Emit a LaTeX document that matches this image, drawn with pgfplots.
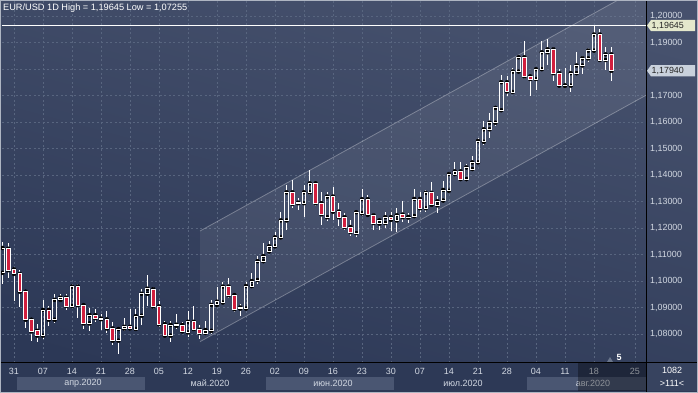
\documentclass[border=0pt]{standalone}
\usepackage{fontspec}
\setmainfont{Liberation Sans}
\usepackage{pgfplots}
\usepackage{pgfplotstable}
\pgfplotsset{compat=1.18}

\definecolor{bgTop}{HTML}{46516D}
\definecolor{bgBot}{HTML}{2C3856}
\definecolor{panel}{HTML}{2D3956}
\definecolor{band}{HTML}{4A5672}
\definecolor{gridc}{HTML}{58657F}
\definecolor{labc}{HTML}{D2D8E2}
\definecolor{candred}{HTML}{D11F3E}
\definecolor{tagA}{HTML}{E4E8CC}
\definecolor{tagB}{HTML}{C9D1DC}
\definecolor{framec}{HTML}{AEB5C2}
\definecolor{boxc}{HTML}{37435F}
\definecolor{tric}{HTML}{6A768C}

\pgfplotstableread{
i o h l c
-1 1.1031 1.1147 1.0990 1.1125
0 1.1122 1.1144 1.1012 1.1041
1 1.1044 1.1052 1.0925 1.1027
2 1.1027 1.1040 1.0902 1.0960
3 1.0960 1.0966 1.0821 1.0854
4 1.0854 1.0862 1.0772 1.0810
5 1.0812 1.0837 1.0769 1.0794
6 1.0794 1.0927 1.0781 1.0891
7 1.0891 1.0904 1.0831 1.0854
8 1.0854 1.0952 1.0841 1.0929
9 1.0929 1.0950 1.0922 1.0937
10 1.0937 1.0950 1.0891 1.0906
11 1.0906 1.0987 1.0904 1.0979
12 1.0979 1.0990 1.0860 1.0909
13 1.0909 1.0912 1.0819 1.0840
14 1.0840 1.0900 1.0812 1.0871
15 1.0871 1.0896 1.0844 1.0860
16 1.0856 1.0877 1.0815 1.0858
17 1.0855 1.0885 1.0804 1.0821
18 1.0821 1.0844 1.0760 1.0775
19 1.0775 1.0825 1.07255 1.0819
20 1.0821 1.0859 1.0812 1.0827
21 1.0827 1.0894 1.0815 1.0821
22 1.0819 1.0894 1.0812 1.0867
23 1.0869 1.0971 1.0835 1.0952
24 1.0952 1.1021 1.0906 1.0971
25 1.0969 1.0977 1.0894 1.0904
26 1.0904 1.0925 1.0825 1.0837
27 1.0837 1.0850 1.0791 1.0794
28 1.0794 1.0850 1.0769 1.0834
29 1.0831 1.0877 1.0819 1.0835
30 1.0834 1.0846 1.0802 1.0810
31 1.0806 1.0885 1.0790 1.0846
32 1.0846 1.0906 1.0812 1.0819
33 1.0816 1.0835 1.0781 1.0804
34 1.0804 1.0850 1.0797 1.0815
35 1.0812 1.0927 1.0800 1.0910
36 1.0910 1.0977 1.0902 1.0922
37 1.0919 1.0997 1.0916 1.0979
38 1.0979 1.1012 1.0937 1.0947
39 1.0947 1.0956 1.0884 1.0894
40 1.0896 1.0915 1.0869 1.0900
41 1.0896 1.0996 1.0891 1.0981
42 1.0981 1.1031 1.0975 1.1000
43 1.1004 1.1096 1.0987 1.1075
44 1.1075 1.1144 1.1069 1.1094
45 1.1112 1.1152 1.1106 1.1131
46 1.1131 1.1187 1.1125 1.1165
47 1.1165 1.1259 1.1159 1.1229
48 1.1229 1.1362 1.1191 1.1335
49 1.1335 1.1381 1.1275 1.1291
50 1.1294 1.1312 1.1269 1.1296
51 1.1294 1.1362 1.1241 1.1335
52 1.1335 1.1419 1.1325 1.1369
53 1.1369 1.1375 1.1285 1.1294
54 1.1294 1.1337 1.1212 1.1252
55 1.1241 1.1335 1.1225 1.1319
56 1.1319 1.1354 1.1231 1.1262
57 1.1262 1.1294 1.1209 1.1241
58 1.1241 1.1256 1.1191 1.1204
59 1.1204 1.1229 1.1171 1.1185
60 1.1181 1.1266 1.1165 1.1260
61 1.1256 1.1346 1.1244 1.1309
62 1.1309 1.1325 1.1244 1.1250
63 1.1248 1.1256 1.1194 1.1219
64 1.1217 1.1237 1.1194 1.1229
65 1.1219 1.1260 1.1200 1.1241
66 1.1241 1.1260 1.1190 1.1231
67 1.1229 1.1275 1.1184 1.1248
68 1.1251 1.1304 1.1222 1.1241
69 1.1240 1.1258 1.1220 1.1242
70 1.1245 1.1348 1.1241 1.1310
71 1.1310 1.1337 1.1260 1.1275
72 1.1275 1.1345 1.1262 1.1333
73 1.1333 1.1373 1.1285 1.1288
74 1.1286 1.1322 1.1258 1.1301
75 1.1304 1.1376 1.1301 1.1344
76 1.1341 1.1413 1.1331 1.1404
77 1.1404 1.1451 1.1398 1.1414
78 1.1414 1.1448 1.1383 1.1385
79 1.1385 1.1441 1.1376 1.1429
80 1.1423 1.1473 1.1420 1.1448
81 1.1448 1.1541 1.1441 1.1529
82 1.1526 1.1604 1.1513 1.1573
83 1.1573 1.1633 1.1539 1.1598
84 1.1598 1.1658 1.1585 1.1654
85 1.1645 1.1779 1.1644 1.1751
86 1.1751 1.1775 1.1698 1.1716
87 1.1714 1.1804 1.1713 1.1791
88 1.1791 1.1851 1.1785 1.1845
89 1.1845 1.1908 1.1763 1.1773
90 1.1773 1.1779 1.1698 1.1763
91 1.1763 1.1806 1.1723 1.1800
92 1.1800 1.1908 1.1798 1.1864
93 1.1864 1.1913 1.1816 1.1875
94 1.1875 1.1883 1.1754 1.1785
95 1.1785 1.1801 1.1735 1.1738
96 1.1737 1.1806 1.1729 1.1739
97 1.1738 1.1814 1.1713 1.1785
98 1.1785 1.1864 1.1779 1.1814
99 1.1814 1.1848 1.1781 1.1841
100 1.1841 1.1879 1.1829 1.1870
101 1.1870 1.19645 1.1864 1.1931
102 1.1931 1.1950 1.1833 1.1835
103 1.1835 1.1885 1.1798 1.1856
104 1.1856 1.1883 1.1754 1.1794
}\candles

\pgfplotsset{
  chartbase/.style={
    at={(2pt,30pt)}, anchor=south west,
    width=644pt, height=362pt, scale only axis,
    xmin=-1.069, xmax=109.97, ymin=1.06905, ymax=1.20576,
    enlargelimits=false,
  }
}

\begin{document}
\begin{tikzpicture}[x=1pt,y=1pt]
\useasboundingbox (0,0) rectangle (698,393);
\shade[top color=bgTop, bottom color=bgBot, shading angle=-15] (0,0) rectangle (698,393);
\fill[panel] (0,0) rectangle (698,30);
\fill[band] (17,3) rectangle (145,16);
\fill[band] (266,3) rectangle (394,16);
\fill[band] (527,3) rectangle (646,16);

\begin{axis}[chartbase,
  axis line style={draw=none},
  major tick length=0pt,
  grid=major,
  major grid style={color=gridc, line width=0.6pt, dash pattern=on 2pt off 2.5pt},
  xtick={1,6,11,16,21,26,31,36,41,46,51,56,61,66,71,76,81,86,91,96,101,108.07},
  xticklabels={31,07,14,21,28,05,12,19,26,02,09,16,23,30,07,14,21,28,04,11,18,25},
  ytick={1.08,1.09,1.10,1.11,1.12,1.13,1.14,1.15,1.16,1.17,1.18,1.19,1.20},
  yticklabels={{1,08000},{1,09000},{1,10000},{1,11000},{1,12000},{1,13000},{1,14000},{1,15000},{1,16000},{1,17000},{},{1,19000},{1,20000}},
  yticklabel pos=right,
  xticklabel style={anchor=center, inner sep=0pt, yshift=-8.7pt, text=labc, font=\fontsize{9}{10}\selectfont},
  yticklabel style={anchor=west, inner sep=0pt, xshift=4pt, text=labc, font=\fontsize{8.9}{10}\selectfont},
]
\addplot[draw=none, fill=white, fill opacity=0.07] coordinates {(33.07,1.1189) (110,1.2120) (110,1.1702) (33.07,1.0771)} -- cycle;
\addplot[white, opacity=0.3, line width=0.8pt] coordinates {(33.07,1.1189) (110,1.2120)};
\addplot[white, opacity=0.3, line width=0.8pt] coordinates {(33.07,1.0771) (110,1.1702)};
\addplot[white, line width=1pt] coordinates {(-1.069,1.19645) (109.97,1.19645)};
\addplot[only marks, mark=none, error bars/.cd, y dir=plus, y explicit, error mark=none,
  error bar style={white, line width=0.8pt}]
  table[x=i, y expr={max(\thisrow{o},\thisrow{c})}, y error plus expr={\thisrow{h}-max(\thisrow{o},\thisrow{c})}] {\candles};
\addplot[only marks, mark=none, error bars/.cd, y dir=minus, y explicit, error mark=none,
  error bar style={white, line width=0.8pt}]
  table[x=i, y expr={min(\thisrow{o},\thisrow{c})}, y error minus expr={min(\thisrow{o},\thisrow{c})-\thisrow{l}}] {\candles};
\end{axis}

\begin{axis}[chartbase, hide axis, ybar stacked, bar width=3.6pt]
\addplot[draw=none, fill=none] table[x=i, y expr={min(\thisrow{o},\thisrow{c})}] {\candles};
\addplot[draw=white, fill=none, line width=0.8pt] table[x=i, y expr={max(\thisrow{c}-\thisrow{o},0)}] {\candles};
\addplot[draw=white, fill=candred, line width=0.8pt] table[x=i, y expr={max(\thisrow{o}-\thisrow{c},0)}] {\candles};
\end{axis}

% month labels
\begin{scope}[every node/.style={text=labc, font=\fontsize{9}{10}\selectfont, inner sep=0pt}]
\node at (83,9.5) {апр.2020};
\node at (210,9.5) {май.2020};
\node at (333,9.5) {июн.2020};
\node at (463,9.5) {июл.2020};
\node at (593,9.5) {авг.2020};
\end{scope}
\fill[black, opacity=0.32] (578,2) rectangle (646,30);
\fill[tric] (607,31) -- (613,31) -- (610,36) -- cycle;
\node[text=white, font=\fontsize{9}{10}\selectfont\bfseries, inner sep=0pt] at (619,36) {5};

% axes lines and right-bottom box
\fill[boxc] (646,2) rectangle (698,30);
\draw[black, line width=1pt] (0,30) -- (698,30);
\draw[black, line width=1pt] (646,0) -- (646,393);
\node[text=white, font=\fontsize{9}{10}\selectfont, inner sep=0pt] at (672,23) {1082};
\node[text=white, font=\fontsize{9}{10}\selectfont, inner sep=0pt] at (672,10) {>111<};

% price tags
\fill[tagA] (647,367.4) -- (651,373) -- (695,373) -- (695,361.8) -- (651,361.8) -- cycle;
\node[anchor=west, text=black!85, font=\fontsize{8.9}{10}\selectfont, inner sep=0pt] at (651.5,367.4) {1,19645};
\fill[tagB] (647,322.2) -- (651,327.8) -- (695,327.8) -- (695,316.6) -- (651,316.6) -- cycle;
\node[anchor=west, text=black!85, font=\fontsize{8.9}{10}\selectfont, inner sep=0pt] at (651.5,322.2) {1,17940};

% header
\node[anchor=west, text=white, font=\fontsize{9.2}{10}\selectfont, inner sep=0pt] at (3,385) {EUR/USD 1D High = 1,19645 Low = 1,07255};

\draw[framec, line width=2pt] (0,0) rectangle (698,393);
\end{tikzpicture}
\end{document}
